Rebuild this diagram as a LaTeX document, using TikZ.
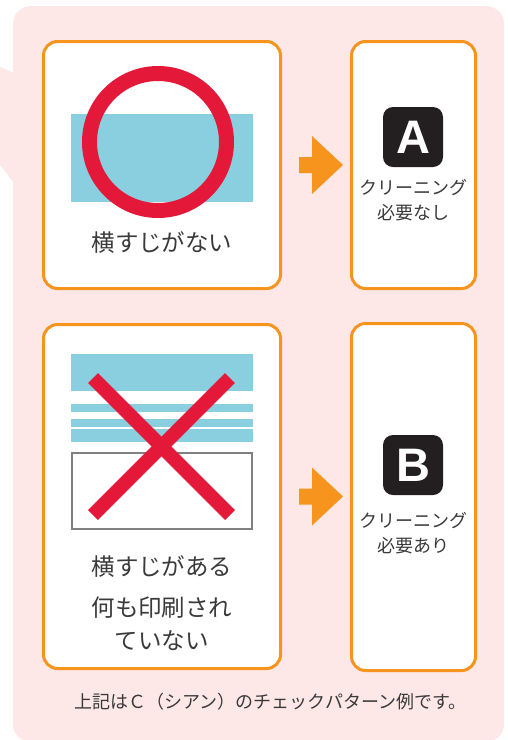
\documentclass[tikz,border=0pt]{standalone}
\usepackage{fontspec}
\setmainfont{Noto Sans CJK JP}
\newfontfamily\badgefont{Liberation Sans}
\usetikzlibrary{calc}
\definecolor{bubblepink}{RGB}{253,231,231}
\definecolor{frameorange}{RGB}{247,148,29}
\definecolor{printcyan}{RGB}{137,207,223}
\definecolor{markred}{RGB}{228,25,58}
\definecolor{framegray}{RGB}{128,128,130}
\definecolor{inkgray}{RGB}{58,58,58}
\definecolor{badgeblack}{RGB}{35,31,32}
\newcommand{\sheetsize}{\fontsize{23.5}{33}\selectfont}
\newcommand{\resultsize}{\fontsize{18}{25}\selectfont}
% orange block arrow, drawn from its left end
\newcommand{\blockarrow}[1]{\fill[frameorange] #1 ++(0,-8) -- ++(13,0) -- ++(0,-21) -- ++(31,29) -- ++(-31,29) -- ++(0,-21) -- ++(-13,0) -- cycle;}

\begin{document}
\begin{tikzpicture}[x=1pt,y=-1pt,
    panel/.style={draw=frameorange,line width=3pt,fill=white,rounded corners=14pt},
    badge/.style={fill=badgeblack,rounded corners=10pt,minimum size=60pt,inner sep=0pt,text=white,font=\badgefont\bfseries\fontsize{47}{47}\selectfont},
    sheettext/.style={text=inkgray,font=\sheetsize,align=center,inner sep=0pt},
    resulttext/.style={text=inkgray,font=\resultsize,align=center,inner sep=0pt}]
    \useasboundingbox (0,0) rectangle (508,740);

    % Pink speech bubble
    \fill[bubblepink,rounded corners=18pt] (13,6) rectangle (504,742);
    \fill[bubblepink] (14,73) -- (0,67) -- (0,165) -- (14,183) -- cycle;

    % Panels
    \node[panel,minimum width=237pt,minimum height=247pt] (okpanel) at (162,165) {};
    \node[panel,minimum width=124pt,minimum height=247pt] (okresult) at (413.5,165) {};
    \node[panel,minimum width=237pt,minimum height=344pt] (ngpanel) at (162,496.5) {};
    \node[panel,minimum width=124pt,minimum height=347pt] (ngresult) at (413.5,497) {};

    % Good print: solid band with a circle
    \fill[printcyan] (71,114) rectangle (253,202);
    \draw[markred,line width=15pt] (158,142) circle[radius=68.5];
    \node[sheettext] (oktext) at (162,243) {横すじがない};

    % Bad print: broken bands, blank area and a cross
    \foreach \ya/\yb in {354/391,404/412,419/427,429/442}
        \fill[printcyan] (71,\ya) rectangle (253,\yb);
    \draw[framegray,line width=2pt] (72,453) rectangle (252,529);
    \draw[markred,line width=14pt] (93,378) -- (230,515);
    \draw[markred,line width=14pt] (230,378) -- (93,515);
    \node[sheettext] (ngtext) at (162,567) {横すじがある};
    \node[sheettext] (blanktext) at (162,623.5) {何も印刷され\\ていない};

    % Arrows
    \blockarrow{($(okpanel.east)+(17,0)$)}
    \blockarrow{($(ngpanel.east)+(17,0)$)}

    % Results
    \node[badge] (badgeA) at (413,137) {A};
    \node[resulttext] (oknote) at (413,200.5) {クリーニング\\必要なし};
    \node[badge] (badgeB) at (413,465) {B};
    \node[resulttext] (ngnote) at (413,533) {クリーニング\\必要あり};

    % Footnote
    \node[resulttext] (footnote) at (270.5,702) {上記はＣ（シアン）のチェックパターン例です。};
\end{tikzpicture}
\end{document}
